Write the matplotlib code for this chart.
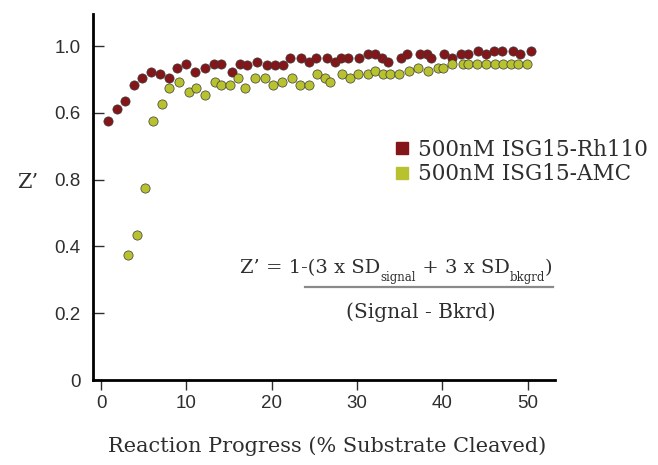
import matplotlib
matplotlib.use("Agg")
import matplotlib.pyplot as plt
from matplotlib.lines import Line2D

# data (x = % substrate cleaved, y = Z')
rh110_x = [0.84, 1.83, 2.80, 3.82, 4.83, 5.84, 6.86, 7.96, 8.93, 9.94,
           10.96, 12.20, 13.22, 14.08, 15.33, 16.30, 17.12, 18.30, 19.40, 20.33,
           21.34, 22.13, 23.45, 24.39, 25.14, 26.42, 27.36, 28.10, 28.92, 30.21,
           31.26, 32.16, 32.98, 33.64, 35.13, 35.91, 37.32, 38.14, 38.64, 40.20,
           41.18, 42.16, 43.01, 44.18, 45.12, 46.02, 47.04, 48.33, 49.15, 50.35]
rh110_y = [0.775, 0.813, 0.835, 0.883, 0.903, 0.923, 0.915, 0.905, 0.933, 0.945,
           0.923, 0.933, 0.945, 0.945, 0.923, 0.945, 0.943, 0.953, 0.943, 0.943,
           0.943, 0.965, 0.965, 0.953, 0.965, 0.965, 0.953, 0.965, 0.965, 0.965,
           0.975, 0.975, 0.965, 0.953, 0.965, 0.975, 0.975, 0.975, 0.965, 0.975,
           0.965, 0.975, 0.975, 0.985, 0.975, 0.985, 0.985, 0.985, 0.975, 0.985]

amc_x = [3.12, 4.24, 5.18, 6.04, 7.13, 7.92, 9.16, 10.26, 11.08, 12.20,
         13.34, 14.04, 15.13, 16.00, 16.86, 18.03, 19.20, 20.17, 21.19, 22.33,
         23.33, 24.35, 25.29, 26.23, 26.85, 28.18, 29.15, 30.13, 31.26, 32.16,
         33.05, 33.84, 34.89, 36.10, 37.12, 38.33, 39.43, 40.13, 41.18, 42.47,
         43.01, 44.11, 45.08, 46.14, 47.11, 48.02, 48.87, 49.92]
amc_y = [0.374, 0.434, 0.574, 0.775, 0.825, 0.873, 0.893, 0.863, 0.873, 0.853,
         0.893, 0.883, 0.883, 0.905, 0.873, 0.905, 0.905, 0.883, 0.893, 0.905,
         0.883, 0.883, 0.915, 0.905, 0.893, 0.915, 0.905, 0.915, 0.915, 0.925,
         0.915, 0.915, 0.915, 0.925, 0.933, 0.925, 0.933, 0.933, 0.945, 0.945,
         0.945, 0.945, 0.945, 0.945, 0.945, 0.945, 0.945, 0.945]

x_ticks = [0, 10, 20, 30, 40, 50]
y_ticks = [0, 0.2, 0.4, 0.6, 0.8, 1.0]
y_tick_labels = ["0", "0.2", "0.4", "0.8", "0.6", "1.0"]  # as printed on the original

labels = ["500nM ISG15-Rh110", "500nM ISG15-AMC"]
red = "#841619"
green = "#b8c22e"
txt = "#2e2e2e"

W, H = 658, 465
def fx(px):
    return px / W
def fy(py):
    return 1 - py / H

serif = ["DejaVu Serif", "Liberation Serif"]
plt.rcParams["font.family"] = ["Liberation Sans", "DejaVu Sans"]

fig = plt.figure(figsize=(6.58, 4.65), dpi=100)
ax = fig.add_axes([fx(93), fy(380), fx(555) - fx(93), (380 - 14) / H])

ax.scatter(rh110_x, rh110_y, s=44, c=red, edgecolors="#3a3a3a", linewidths=0.5, zorder=3)
ax.scatter(amc_x, amc_y, s=44, c=green, edgecolors="#3a3a3a", linewidths=0.5, zorder=3)

ax.set_xlim(-0.95, 53.2)
ax.set_ylim(0, 1.096)
ax.set_xticks(x_ticks)
ax.set_yticks(y_ticks)
ax.set_yticklabels(y_tick_labels)

for s in ["top", "right"]:
    ax.spines[s].set_visible(False)
for s in ["left", "bottom"]:
    ax.spines[s].set_linewidth(2.0)
ax.tick_params(axis="y", direction="in", length=8, width=1, pad=9, labelsize=13.5, colors=txt)
ax.tick_params(axis="x", direction="out", length=7, width=1, pad=4, labelsize=13.5, colors=txt)

fig.text(fx(28), fy(183), "Z’", family=serif, fontsize=15, color=txt,
         ha="center", va="center")
fig.text(fx(327), fy(446), "Reaction Progress (% Substrate Cleaved)", family=serif,
         fontsize=15, color=txt, ha="center", va="center")

handles = [Line2D([], [], marker="s", ls="", color=red, markersize=8.5),
           Line2D([], [], marker="s", ls="", color=green, markersize=8.5)]
fig.legend(handles, labels, loc="upper left", bbox_to_anchor=(fx(385), fy(130)),
           frameon=False, prop={"family": serif, "size": 15.5}, handlelength=0.8,
           handletextpad=0.35, labelspacing=0.12, borderaxespad=0, labelcolor=txt)

# Z' formula, built piece by piece so the subscripts stay small
pieces = [("Z’ = 1-(3 x SD", 14, 0), ("signal", 8.5, -8), (" + 3 x SD", 14, 0),
          ("bkgrd", 8.5, -8), (")", 14, 0)]
renderer = fig.canvas.get_renderer()
x_px = 240
for s, size, dy in pieces:
    t = fig.text(fx(x_px), fy(273 - dy), s, family=serif, fontsize=size, color=txt,
                 ha="left", va="baseline")
    x_px += t.get_window_extent(renderer).width
fig.add_artist(Line2D([fx(305), fx(553)], [fy(287), fy(287)], color="#8a8a8a", lw=1.6))
fig.text(fx(421), fy(312), "(Signal - Bkrd)", family=serif, fontsize=14.5,
         color=txt, ha="center", va="center")

fig.savefig("out.png", dpi=100)
